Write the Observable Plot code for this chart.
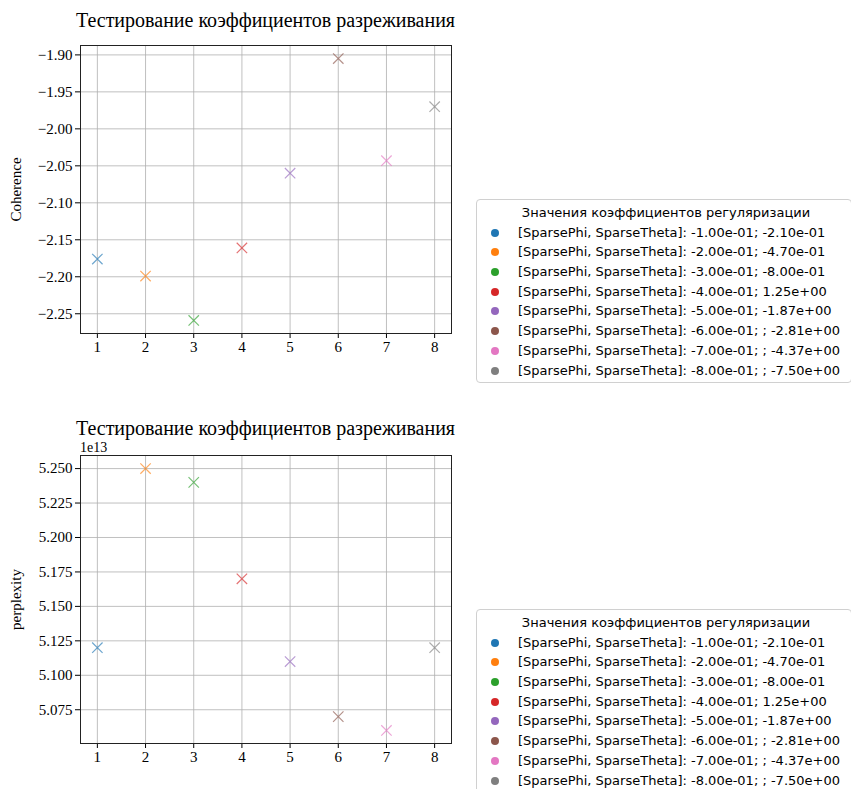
<!DOCTYPE html>
<html>
<head>
<meta charset="utf-8">
<script src="https://cdn.jsdelivr.net/npm/d3@7"></script>
<script src="https://cdn.jsdelivr.net/npm/@observablehq/plot@0.6"></script>
<style>
  html, body { margin: 0; padding: 0; background: #fff; }
  #root { position: relative; width: 851px; height: 789px; overflow: hidden; background: #fff; }
  .title { position: absolute; left: 0; width: 531px; text-align: center; font-family: "Liberation Serif", "Times New Roman", serif; font-size: 20px; line-height: 20px; color: #000; white-space: nowrap; }
  .offset { position: absolute; font-family: "Liberation Serif", serif; font-size: 14px; line-height: 12px; height: 12px; color: #000; }
  .legend { position: absolute; left: 476px; width: 376px; border: 1px solid #d0d0d0; border-radius: 4px; background: #fff; font-family: "DejaVu Sans", sans-serif; font-size: 13px; color: #000; box-sizing: border-box; padding-top: 3px; }
  .legend .lt { text-align: center; line-height: 19.7px; height: 19.7px; white-space: nowrap; padding-left: 4px; }
  .legend .row { position: relative; line-height: 19.7px; height: 19.7px; white-space: nowrap; padding-left: 41px; }
  .legend .mk { position: absolute; left: 14px; top: 6px; width: 8px; height: 8px; border-radius: 50%; }
</style>
</head>
<body>
<div id="root"></div>
<script>
// ---- data ----
const runIndex = [1, 2, 3, 4, 5, 6, 7, 8];
const coherence = [-2.176, -2.199, -2.259, -2.161, -2.060, -1.905, -2.043, -1.970];
const perplexity = [5.120e13, 5.250e13, 5.240e13, 5.170e13, 5.110e13, 5.070e13, 5.060e13, 5.120e13];
const seriesLabels = [
  "[SparsePhi, SparseTheta]: -1.00e-01; -2.10e-01",
  "[SparsePhi, SparseTheta]: -2.00e-01; -4.70e-01",
  "[SparsePhi, SparseTheta]: -3.00e-01; -8.00e-01",
  "[SparsePhi, SparseTheta]: -4.00e-01; 1.25e+00",
  "[SparsePhi, SparseTheta]: -5.00e-01; -1.87e+00",
  "[SparsePhi, SparseTheta]: -6.00e-01; ; -2.81e+00",
  "[SparsePhi, SparseTheta]: -7.00e-01; ; -4.37e+00",
  "[SparsePhi, SparseTheta]: -8.00e-01; ; -7.50e+00"
];
const chartTitle = "Тестирование коэффициентов разреживания";
const legendTitle = "Значения коэффициентов регуляризации";
const xTicks = [1, 2, 3, 4, 5, 6, 7, 8];
const coherenceTicks = [-2.25, -2.20, -2.15, -2.10, -2.05, -2.00, -1.95, -1.90];
const perplexityTicks = [5.075e13, 5.100e13, 5.125e13, 5.150e13, 5.175e13, 5.200e13, 5.225e13, 5.250e13];
const palette = ["#1f77b4", "#ff7f0e", "#2ca02c", "#d62728", "#9467bd", "#8c564b", "#e377c2", "#7f7f7f"];

// ---- helpers ----
function pad(ext, f) { const r = ext[1] - ext[0]; return [ext[0] - r * f, ext[1] + r * f]; }

function makePlot(values, yTicks, yFmt, yLabel) {
  const rows = runIndex.map((x, i) => ({x, y: values[i], s: seriesLabels[i]}));
  return Plot.plot({
    width: 470,
    height: 370,
    marginLeft: 80,
    marginRight: 19,
    marginTop: 45,
    marginBottom: 37,
    style: {fontFamily: "'Liberation Serif', 'Times New Roman', serif", fontSize: "15px", color: "#000", background: "transparent"},
    x: {domain: pad(d3.extent(runIndex), 0.05), ticks: xTicks, tickFormat: d3.format("d"), label: null, tickSize: 5, tickPadding: 3},
    y: {domain: pad(d3.extent(values), 0.05), ticks: yTicks, tickFormat: yFmt, label: yLabel, labelAnchor: "center", labelArrow: "none", labelOffset: 70, tickSize: 5, tickPadding: 3},
    color: {type: "ordinal", domain: seriesLabels, range: palette},
    marks: [
      Plot.gridX(xTicks, {stroke: "#b0b0b0", strokeOpacity: 1, strokeWidth: 0.8}),
      Plot.gridY(yTicks, {stroke: "#b0b0b0", strokeOpacity: 1, strokeWidth: 0.8}),
      Plot.frame({stroke: "#222", strokeWidth: 1}),
      Plot.dot(rows, {x: "x", y: "y", stroke: "s", symbol: "times", r: 4.8, strokeWidth: 1.2, strokeOpacity: 0.65})
    ]
  });
}

function makeLegend(top) {
  const lg = document.createElement("div");
  lg.className = "legend";
  lg.style.top = top + "px";
  lg.style.height = "184px";
  const t = document.createElement("div");
  t.className = "lt";
  t.textContent = legendTitle;
  lg.appendChild(t);
  seriesLabels.forEach((s, i) => {
    const r = document.createElement("div");
    r.className = "row";
    const m = document.createElement("span");
    m.className = "mk";
    m.style.background = palette[i];
    r.appendChild(m);
    r.appendChild(document.createTextNode(s));
    lg.appendChild(r);
  });
  return lg;
}

const root = document.getElementById("root");

// top panel
const t1 = document.createElement("div");
t1.className = "title"; t1.style.top = "10px"; t1.textContent = chartTitle;
root.appendChild(t1);
const p1 = makePlot(coherence, coherenceTicks, d3.format(".2f"), "Coherence");
p1.style.position = "absolute"; p1.style.left = "0px"; p1.style.top = "0px";
root.appendChild(p1);
root.appendChild(makeLegend(199));

// bottom panel
const t2 = document.createElement("div");
t2.className = "title"; t2.style.top = "418px"; t2.textContent = chartTitle;
root.appendChild(t2);
const p2 = makePlot(perplexity, perplexityTicks, d => (d / 1e13).toFixed(3), "perplexity");
p2.style.position = "absolute"; p2.style.left = "0px"; p2.style.top = "410px";
root.appendChild(p2);
const off = document.createElement("div");
off.className = "offset"; off.style.left = "80px"; off.style.top = "442px"; off.textContent = "1e13";
root.appendChild(off);
root.appendChild(makeLegend(609));
</script>
</body>
</html>
